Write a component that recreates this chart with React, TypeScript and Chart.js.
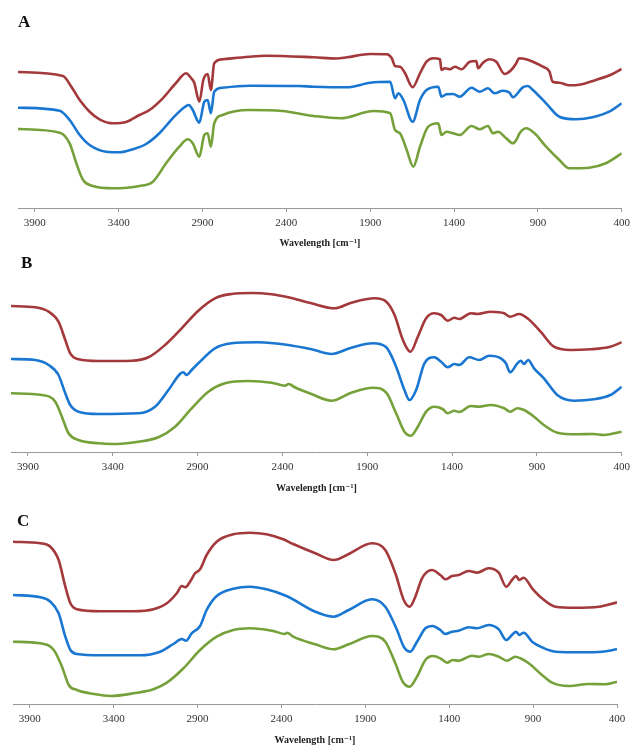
import React, { useEffect, useRef } from "react";
import { Chart, registerables } from "chart.js";

Chart.register(...registerables);

// x-axis tick labels (wavenumber, cm-1)
const TICKS = [3900, 3400, 2900, 2400, 1900, 1400, 900, 400];
const X_TITLE = "Wavelength [cm\u207B\u00B9]";

// ---------- Panel A (transmittance, a.u.) ----------
const A_RED_WN = [4000, 3732, 3682, 3632, 3573, 3514, 3434, 3355, 3276, 3216, 3137, 3058, 2998, 2968, 2949, 2919, 2895, 2869, 2850, 2830, 2780, 2622, 2523, 2236, 2100, 2039, 1900, 1801, 1771, 1752, 1722, 1692, 1647, 1603, 1564, 1524, 1484, 1475, 1455, 1425, 1395, 1356, 1306, 1267, 1257, 1227, 1188, 1148, 1099, 1059, 1029, 1013, 970, 930, 871, 831, 812, 772, 713, 653, 555, 455, 400];
const A_RED_T = [136, 132, 121.3, 108, 96.3, 88.7, 84.7, 86, 93, 98, 109.7, 125, 134.7, 130, 125.3, 106.3, 128, 134, 118, 144.7, 148.7, 151.3, 152.3, 150.7, 149.5, 150.7, 154, 153.7, 149.7, 142, 141.3, 134.7, 120.7, 134.7, 146.3, 149.7, 148.7, 138, 139.7, 138.7, 141.3, 138.7, 146.3, 147, 139.7, 145.3, 148.7, 146.3, 134, 138, 144.7, 149.7, 148.7, 146.3, 141.3, 136.3, 126.3, 125.3, 122.7, 123.3, 128, 134, 139];

const A_BLUE_WN = [4000, 3751, 3692, 3632, 3573, 3474, 3395, 3315, 3236, 3157, 3078, 3008, 2982, 2958, 2919, 2889, 2869, 2850, 2830, 2780, 2622, 2325, 2236, 2039, 1900, 1781, 1752, 1732, 1702, 1647, 1603, 1564, 1494, 1475, 1445, 1405, 1366, 1296, 1247, 1198, 1158, 1109, 1069, 1049, 990, 960, 930, 851, 772, 673, 574, 475, 400];
const A_BLUE_T = [100.3, 97.3, 88, 73, 63, 56.3, 55.7, 58.7, 64, 74.7, 89.7, 100.7, 103, 98, 85.3, 106.3, 108, 94.7, 116.3, 120.3, 122.3, 122, 121.3, 120.7, 125.3, 126.3, 109.7, 114.7, 108, 86.3, 108, 118, 121.3, 111.3, 113.7, 114, 111.3, 120.3, 116.3, 119.7, 114.7, 117.3, 115.3, 110.7, 120.7, 122, 118, 104.7, 91.3, 88.7, 90.7, 96.3, 104.7];

const A_GREEN_WN = [4000, 3751, 3692, 3652, 3612, 3553, 3434, 3276, 3196, 3117, 3038, 2988, 2958, 2919, 2889, 2869, 2850, 2830, 2780, 2622, 2424, 2236, 2078, 1880, 1781, 1752, 1722, 1682, 1643, 1603, 1554, 1494, 1475, 1445, 1405, 1366, 1296, 1247, 1198, 1168, 1138, 1089, 1049, 1029, 1009, 970, 920, 851, 772, 713, 594, 495, 400];
const A_GREEN_T = [79, 75.3, 64.7, 44.7, 28, 22, 19.7, 22, 26.3, 44.7, 61.3, 68.7, 64.7, 51.3, 73, 74.7, 61.3, 84.7, 93, 98, 97, 92, 89.7, 97, 94.7, 78, 74.7, 58, 41.3, 61.3, 81.3, 84.7, 73, 76.3, 74.7, 73, 82, 78.7, 82, 74.7, 76.3, 69.7, 64.7, 68, 74.7, 79.7, 74.7, 61.3, 48, 39.7, 40.3, 44.7, 54.7];

// ---------- Panel B ----------
const B_RED_WN = [4000, 3857, 3778, 3720, 3680, 3651, 3602, 3484, 3288, 3190, 3092, 2994, 2896, 2798, 2700, 2582, 2464, 2366, 2229, 2092, 1994, 1857, 1788, 1739, 1690, 1645, 1602, 1553, 1505, 1465, 1426, 1387, 1358, 1289, 1250, 1172, 1093, 1058, 1005, 956, 878, 800, 702, 584, 467, 400];
const B_RED_T = [146, 144.7, 140.3, 130.3, 112, 98.7, 92.7, 91, 91.3, 94.7, 107, 123.7, 141.3, 153.7, 158, 159, 157.7, 154.7, 148.7, 143.7, 149.3, 153.7, 150.3, 137, 112, 100.3, 115.3, 133.7, 138.7, 137, 131.3, 134.3, 133, 138.7, 138, 140.3, 138.7, 135.3, 138, 133.7, 120.3, 105.3, 102, 102.7, 105.3, 109.7];

const B_BLUE_WN = [4000, 3857, 3778, 3720, 3680, 3651, 3602, 3484, 3249, 3151, 3072, 3004, 2984, 2965, 2935, 2896, 2798, 2700, 2543, 2366, 2229, 2111, 1994, 1867, 1788, 1730, 1681, 1651, 1612, 1563, 1505, 1465, 1426, 1387, 1358, 1299, 1240, 1181, 1113, 1083, 1058, 1015, 995, 976, 952, 917, 859, 780, 682, 565, 467, 400];
const B_BLUE_T = [93, 92, 87, 77, 58.7, 47, 40.3, 38, 38.7, 45.3, 62, 78, 79.7, 77, 82, 88.7, 103.7, 108.7, 109.7, 107, 102.7, 98, 104.3, 108.7, 104.7, 85.3, 62, 52, 62, 88.7, 94.7, 90.3, 84.7, 88, 87, 94.7, 92, 96.3, 93.7, 88.7, 79.7, 88.7, 91.3, 88, 92, 83.7, 73.7, 57, 51.3, 52.7, 57, 65.3];

const B_GREEN_WN = [4000, 3818, 3739, 3700, 3661, 3602, 3484, 3406, 3249, 3131, 3033, 2935, 2837, 2739, 2602, 2464, 2386, 2363, 2327, 2229, 2111, 1994, 1867, 1788, 1730, 1681, 1642, 1602, 1553, 1505, 1456, 1426, 1387, 1358, 1289, 1240, 1172, 1093, 1058, 1015, 976, 917, 859, 780, 663, 565, 506, 400];
const B_GREEN_T = [58.7, 57, 50.3, 35.3, 18.7, 12, 8.7, 8, 10.3, 14.7, 25.3, 43.7, 60.3, 68.7, 71, 69.3, 66.3, 68, 64.7, 58, 51.3, 59.3, 64.3, 59.3, 38.7, 20.3, 16.3, 25.3, 40.3, 45.3, 43, 38.7, 41.3, 40, 46, 45.3, 47, 43.7, 40.3, 43.7, 42, 35.3, 27, 19.3, 17.7, 18, 17, 20.3];

// ---------- Panel C ----------
const C_RED_WN = [4000, 3837, 3777, 3728, 3688, 3658, 3619, 3480, 3282, 3163, 3083, 3024, 2994, 2974, 2945, 2915, 2885, 2846, 2786, 2687, 2588, 2489, 2390, 2330, 2198, 2089, 1999, 1860, 1781, 1721, 1671, 1636, 1602, 1562, 1503, 1453, 1423, 1383, 1344, 1284, 1234, 1165, 1105, 1060, 1026, 1002, 982, 956, 906, 847, 767, 648, 509, 400];
const C_RED_T = [162.3, 160.7, 157.3, 144, 117.3, 100.7, 94.7, 92.7, 92.7, 94.7, 100.7, 110.7, 118, 116.7, 122.3, 130.7, 134.7, 149, 162.3, 169.7, 171.3, 169.7, 164.7, 160, 150.7, 144, 150, 160.7, 154, 130.7, 104, 97.3, 107.3, 125.7, 134, 129, 124.7, 128, 129, 133, 131.3, 135.7, 131.3, 117.3, 124, 128, 124, 126.3, 115.7, 105.7, 97.3, 96.3, 97.3, 101.7];

const C_BLUE_WN = [4000, 3837, 3777, 3728, 3688, 3658, 3619, 3480, 3242, 3123, 3044, 2994, 2968, 2935, 2885, 2846, 2786, 2687, 2588, 2489, 2370, 2198, 2089, 1999, 1860, 1781, 1711, 1671, 1632, 1592, 1542, 1499, 1453, 1423, 1383, 1344, 1284, 1234, 1165, 1105, 1060, 1026, 1002, 982, 956, 906, 847, 767, 608, 489, 400];
const C_BLUE_T = [109, 106.7, 102.3, 90.7, 67.3, 54, 50, 48.7, 48.7, 52.3, 60, 65, 63.3, 70.7, 78, 94, 108, 115.3, 117.3, 114.7, 108, 92.3, 87.3, 94, 104.7, 97.3, 74, 57.3, 52.3, 62.3, 75.7, 78, 74, 70, 72.3, 73.3, 76.7, 75.7, 79, 74.7, 64, 69, 72.3, 69, 71.3, 62.3, 56.7, 52.3, 51.7, 52.3, 54.7];

const C_GREEN_WN = [4000, 3837, 3757, 3708, 3668, 3619, 3519, 3420, 3282, 3163, 3083, 2984, 2885, 2786, 2687, 2588, 2449, 2380, 2366, 2330, 2198, 2089, 1999, 1860, 1781, 1721, 1677, 1636, 1592, 1542, 1499, 1453, 1413, 1379, 1344, 1264, 1224, 1165, 1105, 1056, 1006, 976, 926, 847, 787, 688, 569, 469, 400];
const C_GREEN_T = [62.3, 60.7, 54, 37.3, 19, 14, 10, 8, 10.7, 14.7, 21.3, 35.7, 54, 67.3, 74, 75.7, 73, 70, 71.3, 67.3, 59.7, 54.7, 59.7, 68, 62.3, 40.7, 22.3, 17.3, 27.3, 44, 48, 45.7, 41.3, 44, 43.3, 48.3, 47.3, 50, 47.3, 43.3, 47.3, 45.7, 40.7, 29, 21.3, 18, 20, 19.7, 22.3];

const RED = "#A3393B";
const BLUE = "#1A77D1";
const GREEN = "#76A13A";
const SERIF = "'Liberation Serif', 'DejaVu Serif', serif";

type Series = { wn: number[]; t: number[]; color: string };
type PanelCfg = {
  label: string;
  labelLeft: number;
  labelTop: number;
  top: number;
  height: number;
  axisHeight: number;
  padLeft: number;
  padRight: number;
  padTop: number;
  yMax: number;
  series: Series[];
};

const PANELS: PanelCfg[] = [
  {
    label: "A", labelLeft: 18, labelTop: 13, top: 0, height: 250, axisHeight: 42,
    padLeft: 18, padRight: 11, padTop: 40, yMax: 168,
    series: [
      { wn: A_RED_WN, t: A_RED_T, color: RED },
      { wn: A_BLUE_WN, t: A_BLUE_T, color: BLUE },
      { wn: A_GREEN_WN, t: A_GREEN_T, color: GREEN },
    ],
  },
  {
    label: "B", labelLeft: 21, labelTop: 254, top: 250, height: 245, axisHeight: 43,
    padLeft: 11, padRight: 9, padTop: 30, yMax: 172,
    series: [
      { wn: B_RED_WN, t: B_RED_T, color: RED },
      { wn: B_BLUE_WN, t: B_BLUE_T, color: BLUE },
      { wn: B_GREEN_WN, t: B_GREEN_T, color: GREEN },
    ],
  },
  {
    label: "C", labelLeft: 17, labelTop: 512, top: 495, height: 252, axisHeight: 43,
    padLeft: 13, padRight: 18, padTop: 30, yMax: 179,
    series: [
      { wn: C_RED_WN, t: C_RED_T, color: RED },
      { wn: C_BLUE_WN, t: C_BLUE_T, color: BLUE },
      { wn: C_GREEN_WN, t: C_GREEN_T, color: GREEN },
    ],
  },
];

function Panel({ cfg }: { cfg: PanelCfg }) {
  const ref = useRef<HTMLCanvasElement | null>(null);
  useEffect(() => {
    if (!ref.current) return;
    const chart = new Chart(ref.current, {
      type: "line",
      data: {
        datasets: cfg.series.map((s) => ({
          data: s.wn.map((w, i) => ({ x: w, y: s.t[i] })),
          borderColor: s.color,
          backgroundColor: s.color,
          borderWidth: 2.6,
          pointRadius: 0,
          fill: false,
          cubicInterpolationMode: "monotone" as const,
        })),
      },
      options: {
        animation: false,
        responsive: false,
        maintainAspectRatio: false,
        devicePixelRatio: 1,
        layout: { padding: { left: cfg.padLeft, right: cfg.padRight, top: cfg.padTop, bottom: 0 } },
        plugins: { legend: { display: false }, tooltip: { enabled: false } },
        scales: {
          x: {
            type: "linear",
            reverse: true,
            min: 400,
            max: 4000,
            afterBuildTicks: (s: any) => {
              s.ticks = TICKS.map((v) => ({ value: v }));
            },
            afterFit: (s: any) => {
              s.height = cfg.axisHeight;
            },
            grid: { drawOnChartArea: false, drawTicks: true, tickLength: 4, color: "#9a9a9a" },
            border: { display: true, color: "#9a9a9a", width: 1 },
            ticks: {
              font: { family: SERIF, size: 11 },
              color: "#333333",
              padding: 5,
              maxRotation: 0,
              autoSkip: false,
              callback: (v: any) => String(v),
            },
            title: {
              display: true,
              text: X_TITLE,
              font: { family: SERIF, size: 10, weight: "bold" },
              color: "#222222",
              padding: { top: 0, bottom: 1 },
            },
          },
          y: { display: false, min: 0, max: cfg.yMax },
        },
      },
    } as any);
    return () => chart.destroy();
  }, [cfg]);
  return (
    <>
      <canvas
        ref={ref}
        width={635}
        height={cfg.height}
        style={{ position: "absolute", left: 0, top: cfg.top, width: 635, height: cfg.height, display: "block" }}
      />
      <div
        style={{
          position: "absolute",
          left: cfg.labelLeft,
          top: cfg.labelTop,
          fontFamily: SERIF,
          fontWeight: "bold",
          fontSize: 17,
          lineHeight: "17px",
          color: "#111",
        }}
      >
        {cfg.label}
      </div>
    </>
  );
}

export default function App() {
  return (
    <div style={{ position: "absolute", left: 0, top: 0, width: 635, height: 747, background: "#ffffff", overflow: "hidden" }}>
      {PANELS.map((p) => (
        <Panel key={p.label} cfg={p} />
      ))}
    </div>
  );
}
